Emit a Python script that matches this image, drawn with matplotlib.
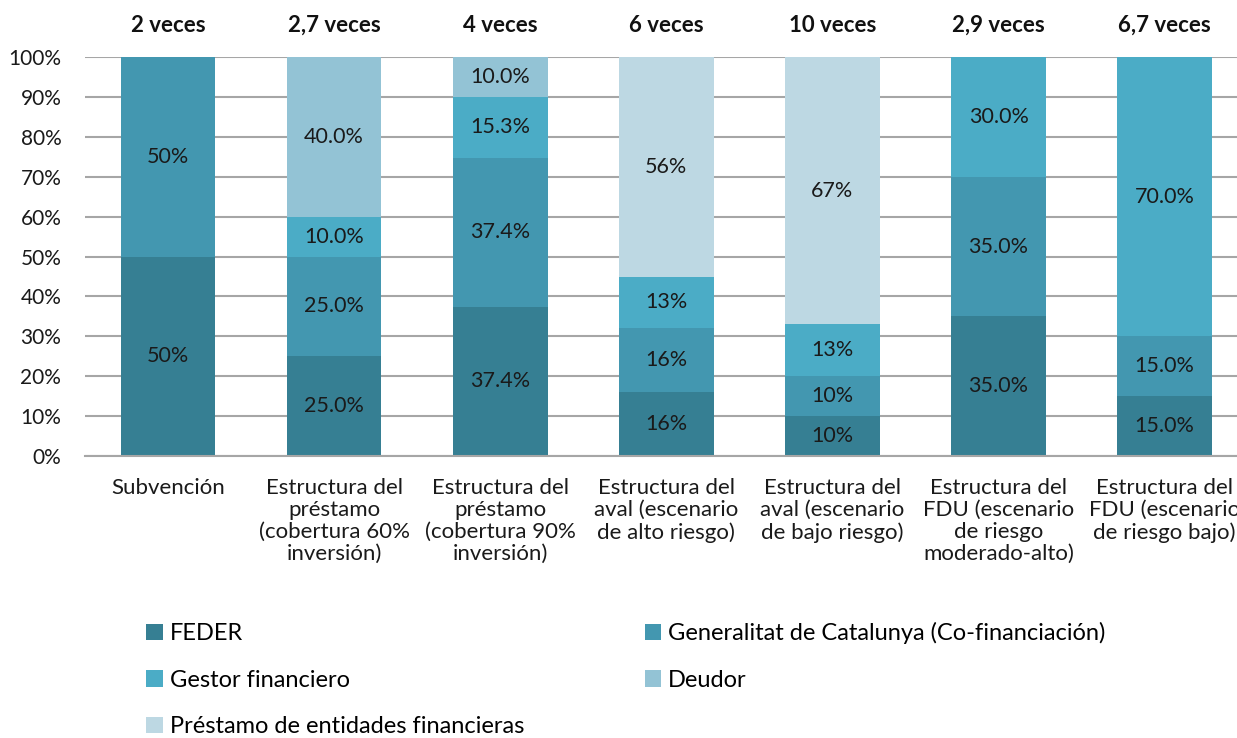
import matplotlib.pyplot as plt
import numpy as np

plt.rcParams['font.family'] = ['Lato', 'DejaVu Sans']

categorias = [
    'Subvención',
    'Estructura del\npréstamo\n(cobertura 60%\ninversión)',
    'Estructura del\npréstamo\n(cobertura 90%\ninversión)',
    'Estructura del\naval (escenario\nde alto riesgo)',
    'Estructura del\naval (escenario\nde bajo riesgo)',
    'Estructura del\nFDU (escenario\nde riesgo\nmoderado-alto)',
    'Estructura del\nFDU (escenario\nde riesgo bajo)',
]
veces = ['2 veces', '2,7 veces', '4 veces', '6 veces', '10 veces', '2,9 veces', '6,7 veces']

feder = [50, 25, 37.4, 16, 10, 35, 15]
generalitat = [50, 25, 37.4, 16, 10, 35, 15]
gestor = [0, 10, 15.3, 13, 13, 30, 70]
deudor = [0, 40, 10.0, 0, 0, 0, 0]
prestamo = [0, 0, 0, 56, 67, 0, 0]
decimales = [0, 1, 1, 0, 0, 1, 1]

series = [
    ('FEDER', feder, '#367f93'),
    ('Generalitat de Catalunya (Co-financiación)', generalitat, '#4397b0'),
    ('Gestor financiero', gestor, '#4bacc6'),
    ('Deudor', deudor, '#93c3d5'),
    ('Préstamo de entidades financieras', prestamo, '#bdd8e3'),
]

fig = plt.figure(figsize=(12.37, 7.38), dpi=100)
ax = fig.add_axes([0.0687, 0.382, 0.940, 0.5407])

x = np.arange(len(categorias))
base = np.zeros(len(categorias))
handles = {}
for nombre, vals, color in series:
    vals = np.array(vals, dtype=float)
    b = ax.bar(x, vals, 0.57, bottom=base, color=color, label=nombre, zorder=2)
    handles[nombre] = b
    for i, v in enumerate(vals):
        if v <= 0:
            continue
        top = min(base[i] + v, 100)
        yc = (base[i] + top) / 2
        txt = f'{v:.{decimales[i]}f}%'
        ax.text(i, yc, txt, ha='center', va='center', fontsize=15.5, color='#1a1a1a', zorder=3)
    base += vals

for i, t in enumerate(veces):
    ax.text(i, 108.0, t, ha='center', va='center', fontsize=16, fontweight='bold',
            color='#111111', clip_on=False)

ax.set_xlim(-0.5, len(categorias) - 0.5)
ax.set_ylim(0, 100)
ax.set_yticks(np.arange(0, 101, 10))
ax.set_yticklabels([f'{v}%' for v in range(0, 101, 10)])
ax.set_xticks(x)
ax.set_xticklabels(categorias, linespacing=1.12)
ax.tick_params(axis='y', length=0, pad=17, labelsize=15, colors='#1a1a1a')
ax.tick_params(axis='x', length=0, pad=16, labelsize=16, colors='#1a1a1a')
ax.yaxis.grid(True, color='#a6a6a6', linewidth=1.5, zorder=0)
ax.set_axisbelow(True)
for s in ['top', 'right', 'left']:
    ax.spines[s].set_visible(False)
ax.spines['bottom'].set_color('#a6a6a6')
ax.spines['bottom'].set_linewidth(1.5)

orden = ['FEDER', 'Gestor financiero', 'Préstamo de entidades financieras',
         'Generalitat de Catalunya (Co-financiación)', 'Deudor']
fig.legend([handles[n] for n in orden], orden, ncol=2, loc='upper left',
           bbox_to_anchor=(0.101, 0.186), frameon=False, fontsize=17,
           handlelength=0.7, handleheight=0.7, handletextpad=0.3,
           columnspacing=5.1, labelspacing=1.08)

fig.savefig('out.png', dpi=100)
